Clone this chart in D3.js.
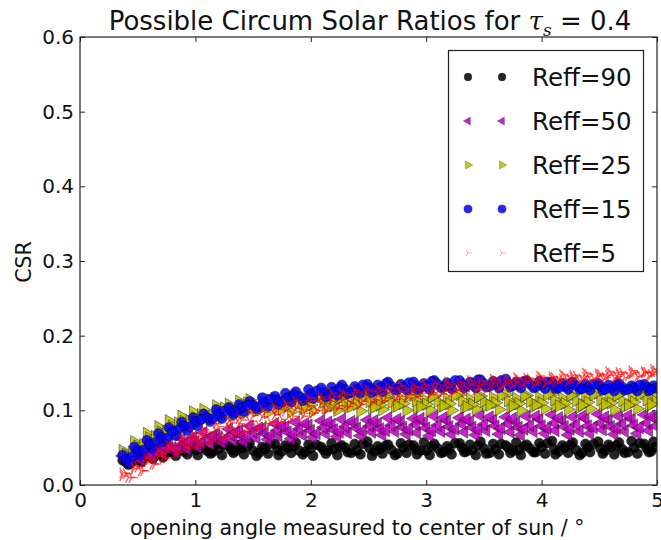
<!DOCTYPE html>
<html>
<head>
<meta charset="utf-8">
<script src="https://cdn.jsdelivr.net/npm/d3@7"></script>
<style>
  html, body { margin: 0; padding: 0; background: #fff; }
  svg { display: block; }
  text { font-family: "DejaVu Sans", sans-serif; fill: #111; }
</style>
</head>
<body>
<svg id="chart" width="661" height="540"></svg>
<script>
// Opening angles (deg) of the four sampling sweeps
const angleA = [0.37,0.47,0.58,0.68,0.77,0.88,0.98,1.07,1.18,1.29, 1.38,1.47,1.58,1.69,1.78,1.87,1.98,2.09,2.18,2.27,
                2.38,2.49,2.58,2.67,2.78,2.89,2.98,3.07,3.18,3.29, 3.38,3.47,3.58,3.69,3.78,3.87,3.98,4.09,4.18,4.27,
                4.38,4.49,4.58,4.67,4.78,4.89,4.97];
const angleB = [0.42,0.53,0.63,0.72,0.83,0.93,1.02,1.13,1.23,1.33, 1.42,1.53,1.63,1.72,1.83,1.93,2.02,2.13,2.23,2.32,
                2.43,2.53,2.62,2.73,2.83,2.92,3.03,3.13,3.22,3.33, 3.43,3.52,3.63,3.73,3.82,3.93,4.03,4.12,4.23,4.33,
                4.42,4.53,4.63,4.72,4.83,4.93];
const angleC = [0.40,0.50,0.60,0.70,0.80,0.90,1.00,1.10,1.20,1.31, 1.40,1.50,1.60,1.71,1.80,1.90,2.00,2.11,2.20,2.30,
                2.40,2.51,2.60,2.70,2.80,2.91,3.00,3.10,3.20,3.31, 3.40,3.50,3.60,3.71,3.80,3.90,4.00,4.11,4.20,4.30,
                4.40,4.51,4.60,4.70,4.80,4.91,4.99];
const angleD = [0.45,0.55,0.65,0.75,0.85,0.95,1.05,1.15,1.25,1.35, 1.45,1.55,1.65,1.75,1.85,1.95,2.05,2.15,2.25,2.35,
                2.45,2.55,2.65,2.75,2.85,2.95,3.05,3.15,3.25,3.35, 3.45,3.55,3.65,3.75,3.85,3.95,4.05,4.15,4.25,4.35,
                4.45,4.55,4.65,4.75,4.85,4.95];

// Circum solar ratio, Reff = 90
const csr90a = [0.033,0.038,0.042,0.046,0.049,0.051,0.053,0.050,0.055,0.052, 0.054,0.056,0.051,0.055,0.053,0.057,0.054,0.051,0.056,0.053,
                0.055,0.058,0.052,0.054,0.056,0.053,0.057,0.055,0.052,0.056, 0.054,0.058,0.055,0.053,0.057,0.054,0.056,0.059,0.053,0.057,
                0.055,0.058,0.054,0.057,0.059,0.055,0.058];
const csr90b = [0.027,0.031,0.035,0.037,0.039,0.041,0.040,0.042,0.040,0.043, 0.041,0.039,0.042,0.040,0.043,0.041,0.039,0.042,0.040,0.044,
                0.041,0.039,0.042,0.040,0.043,0.041,0.040,0.043,0.041,0.044, 0.040,0.042,0.041,0.043,0.040,0.044,0.042,0.041,0.043,0.040,
                0.044,0.042,0.041,0.043,0.042,0.044];
const csr90c = [0.030,0.034,0.038,0.041,0.044,0.045,0.047,0.046,0.048,0.047, 0.049,0.046,0.048,0.047,0.050,0.046,0.049,0.047,0.048,0.050,
                0.046,0.049,0.048,0.047,0.050,0.048,0.046,0.049,0.048,0.050, 0.047,0.049,0.048,0.050,0.047,0.049,0.051,0.048,0.050,0.047,
                0.050,0.049,0.051,0.048,0.050,0.049,0.051];
const csr90d = [0.031,0.036,0.039,0.043,0.046,0.049,0.051,0.044,0.053,0.046, 0.052,0.043,0.055,0.045,0.052,0.044,0.054,0.046,0.051,0.043,
                0.055,0.045,0.053,0.042,0.054,0.046,0.052,0.044,0.056,0.045, 0.053,0.043,0.055,0.046,0.052,0.044,0.056,0.045,0.054,0.043,
                0.055,0.046,0.053,0.044,0.056,0.045];
// Reff = 50
const csr50a = [0.039,0.044,0.048,0.053,0.056,0.062,0.064,0.070,0.068,0.075, 0.073,0.079,0.076,0.082,0.078,0.084,0.080,0.086,0.081,0.088,
                0.083,0.087,0.082,0.090,0.085,0.089,0.084,0.092,0.086,0.090, 0.085,0.093,0.087,0.091,0.084,0.092,0.088,0.094,0.086,0.091,
                0.089,0.095,0.087,0.092,0.088,0.094,0.090];
const csr50b = [0.030,0.033,0.037,0.041,0.044,0.048,0.051,0.055,0.057,0.060, 0.058,0.063,0.061,0.066,0.062,0.067,0.064,0.069,0.065,0.070,
                0.066,0.071,0.067,0.072,0.068,0.070,0.066,0.072,0.068,0.071, 0.067,0.073,0.068,0.071,0.067,0.072,0.069,0.073,0.067,0.072,
                0.069,0.074,0.068,0.072,0.069,0.073];
const csr50c = [0.034,0.039,0.043,0.047,0.050,0.055,0.058,0.062,0.063,0.067, 0.066,0.071,0.069,0.073,0.071,0.075,0.073,0.077,0.074,0.078,
                0.076,0.079,0.075,0.080,0.077,0.081,0.076,0.080,0.078,0.082, 0.077,0.081,0.079,0.082,0.077,0.080,0.079,0.083,0.078,0.081,
                0.079,0.083,0.078,0.082,0.080,0.083,0.079];
const csr50d = [0.036,0.042,0.045,0.050,0.051,0.058,0.056,0.066,0.061,0.071, 0.064,0.076,0.066,0.079,0.068,0.082,0.069,0.084,0.071,0.085,
                0.072,0.086,0.073,0.088,0.074,0.089,0.073,0.090,0.075,0.088, 0.074,0.091,0.076,0.089,0.075,0.092,0.076,0.090,0.075,0.092,
                0.077,0.091,0.076,0.093,0.077,0.092];
// Reff = 25
const csr25a = [0.046,0.058,0.069,0.078,0.086,0.092,0.098,0.101,0.106,0.108, 0.112,0.114,0.113,0.116,0.112,0.117,0.114,0.118,0.113,0.117,
                0.115,0.119,0.114,0.118,0.116,0.120,0.115,0.119,0.116,0.121, 0.115,0.119,0.117,0.121,0.116,0.120,0.117,0.122,0.116,0.120,
                0.118,0.123,0.117,0.121,0.118,0.122,0.119];
const csr25b = [0.036,0.047,0.057,0.065,0.072,0.078,0.083,0.087,0.091,0.094, 0.096,0.099,0.097,0.101,0.098,0.102,0.099,0.103,0.100,0.104,
                0.099,0.103,0.101,0.105,0.100,0.104,0.101,0.105,0.100,0.104, 0.102,0.106,0.101,0.104,0.100,0.105,0.102,0.106,0.101,0.104,
                0.102,0.106,0.101,0.105,0.102,0.106];
const csr25c = [0.041,0.052,0.063,0.071,0.079,0.085,0.090,0.094,0.098,0.101, 0.104,0.106,0.105,0.109,0.106,0.110,0.107,0.111,0.106,0.110,
                0.108,0.112,0.107,0.111,0.109,0.113,0.108,0.112,0.109,0.113, 0.108,0.112,0.110,0.113,0.109,0.112,0.110,0.114,0.109,0.113,
                0.111,0.114,0.110,0.113,0.111,0.114,0.112];
const csr25d = [0.044,0.054,0.065,0.072,0.083,0.086,0.094,0.092,0.103,0.099, 0.110,0.101,0.114,0.102,0.116,0.103,0.117,0.104,0.116,0.105,
                0.118,0.104,0.117,0.106,0.119,0.105,0.118,0.106,0.120,0.105, 0.118,0.107,0.120,0.106,0.119,0.107,0.121,0.106,0.120,0.107,
                0.121,0.108,0.120,0.107,0.121,0.108];
// Reff = 15
const csr15a = [0.040,0.051,0.060,0.069,0.077,0.084,0.090,0.095,0.101,0.104, 0.108,0.112,0.117,0.119,0.123,0.125,0.128,0.130,0.131,0.134,
                0.132,0.135,0.134,0.138,0.135,0.138,0.136,0.140,0.137,0.140, 0.138,0.141,0.139,0.142,0.138,0.140,0.139,0.138,0.136,0.138,
                0.135,0.136,0.134,0.136,0.133,0.135,0.133];
const csr15b = [0.030,0.040,0.049,0.058,0.066,0.073,0.079,0.085,0.089,0.094, 0.098,0.102,0.105,0.108,0.111,0.113,0.116,0.118,0.120,0.122,
                0.123,0.124,0.125,0.127,0.127,0.128,0.128,0.130,0.129,0.130, 0.130,0.131,0.130,0.131,0.130,0.130,0.129,0.129,0.128,0.128,
                0.127,0.127,0.126,0.127,0.126,0.126];
const csr15c = [0.035,0.046,0.055,0.064,0.072,0.079,0.085,0.090,0.095,0.099, 0.103,0.107,0.111,0.114,0.117,0.119,0.122,0.124,0.125,0.128,
                0.128,0.130,0.130,0.132,0.131,0.133,0.132,0.135,0.133,0.135, 0.134,0.136,0.135,0.136,0.134,0.135,0.134,0.134,0.132,0.133,
                0.131,0.132,0.130,0.131,0.130,0.131,0.130];
const csr15d = [0.038,0.047,0.057,0.063,0.074,0.078,0.088,0.089,0.099,0.098, 0.107,0.105,0.115,0.111,0.121,0.116,0.126,0.120,0.130,0.124,
                0.134,0.126,0.136,0.128,0.137,0.130,0.139,0.131,0.140,0.132, 0.141,0.132,0.140,0.133,0.139,0.131,0.138,0.130,0.136,0.129,
                0.135,0.128,0.134,0.128,0.134,0.128];
// Reff = 5
const csr5a = [0.016,0.025,0.036,0.045,0.053,0.062,0.069,0.074,0.082,0.086, 0.090,0.097,0.101,0.104,0.110,0.112,0.117,0.118,0.123,0.123,
               0.127,0.128,0.130,0.131,0.133,0.132,0.135,0.136,0.138,0.137, 0.140,0.139,0.142,0.141,0.144,0.143,0.146,0.145,0.148,0.147,
               0.150,0.149,0.152,0.151,0.153,0.152,0.155];
const csr5b = [0.010,0.019,0.028,0.036,0.043,0.049,0.054,0.058,0.062,0.067, 0.071,0.076,0.080,0.084,0.088,0.092,0.096,0.099,0.102,0.105,
               0.108,0.111,0.113,0.115,0.117,0.119,0.121,0.122,0.124,0.125, 0.127,0.128,0.130,0.131,0.133,0.134,0.136,0.137,0.138,0.139,
               0.141,0.142,0.143,0.144,0.145,0.146];
const csr5c = [0.012,0.022,0.031,0.039,0.048,0.055,0.061,0.066,0.072,0.077, 0.082,0.085,0.091,0.094,0.099,0.102,0.106,0.109,0.112,0.115,
               0.117,0.120,0.121,0.124,0.125,0.127,0.128,0.130,0.131,0.132, 0.134,0.135,0.136,0.137,0.138,0.139,0.141,0.142,0.142,0.144,
               0.145,0.146,0.147,0.148,0.149,0.150,0.151];
const csr5d = [0.015,0.024,0.034,0.043,0.051,0.059,0.065,0.071,0.078,0.083, 0.087,0.093,0.097,0.101,0.106,0.109,0.113,0.115,0.119,0.121,
               0.124,0.126,0.127,0.129,0.130,0.131,0.133,0.134,0.135,0.136, 0.138,0.138,0.140,0.140,0.142,0.142,0.144,0.144,0.146,0.146,
               0.148,0.148,0.150,0.150,0.151,0.151,0.153];
const csr5e = [0.010,0.019,0.028,0.036,0.044,0.051,0.056,0.061,0.066,0.071, 0.075,0.080,0.084,0.088,0.092,0.096,0.100,0.103,0.106,0.109,
               0.112,0.114,0.117,0.119,0.121,0.123,0.124,0.126,0.127,0.129, 0.130,0.132,0.133,0.134,0.136,0.137,0.138,0.140,0.141,0.142,
               0.143,0.144,0.145,0.146,0.147,0.148];

const seriesLabels = ["Reff=90", "Reff=50", "Reff=25", "Reff=15", "Reff=5"];
const xTicks = [0, 1, 2, 3, 4, 5];
const yTicks = [0.0, 0.1, 0.2, 0.3, 0.4, 0.5, 0.6];

// marker paths
const circle = d3.symbol(d3.symbolCircle, 78)();
const triangle = d3.symbol(d3.symbolTriangle, 68)();
const tri = (() => { const r = 6; return `M0,0L${r},0M0,0L${-r/2},${-r*0.866}M0,0L${-r/2},${r*0.866}`; })();

const series = [
  { label: seriesLabels[0], rows: [[angleA, csr90a], [angleB, csr90b], [angleC, csr90c], [angleD, csr90d]],
    path: circle, rot: 0, fill: "#000", stroke: "#000", sw: 0.5, op: 0.85, legendScale: 0.78 },
  { label: seriesLabels[1], rows: [[angleA, csr50a], [angleB, csr50b], [angleC, csr50c], [angleD, csr50d]],
    path: triangle, rot: -90, fill: "#bf00bf", stroke: "#000", sw: 0.5, op: 0.85, legendScale: 0.65 },
  { label: seriesLabels[2], rows: [[angleA, csr25a], [angleB, csr25b], [angleC, csr25c], [angleD, csr25d]],
    path: triangle, rot: 90, fill: "#bfbf00", stroke: "#000", sw: 0.5, op: 0.85, legendScale: 0.65 },
  { label: seriesLabels[3], rows: [[angleA, csr15a], [angleB, csr15b], [angleC, csr15c], [angleD, csr15d]],
    path: circle, rot: 0, fill: "#0000ff", stroke: "#000", sw: 0.5, op: 0.85, legendScale: 0.82 },
  { label: seriesLabels[4], rows: [[angleA, csr5a], [angleB, csr5b], [angleA, csr5c], [angleC, csr5d], [angleD, csr5e]],
    path: tri, rot: 0, fill: "none", stroke: "#ff0000", sw: 1.5, op: 0.6, legendScale: 0.65 }
];

const svg = d3.select("#chart");
const margin = { left: 80, right: 4, top: 37, bottom: 55 };
const W = 661, H = 540;
const x = d3.scaleLinear().domain([0, 5]).range([margin.left, W - margin.right]);
const y = d3.scaleLinear().domain([0, 0.6]).range([H - margin.bottom, margin.top]);

svg.append("clipPath").attr("id", "plotclip").append("rect")
  .attr("x", x(0)).attr("y", y(0.6)).attr("width", x(5) - x(0)).attr("height", y(0) - y(0.6));

const plot = svg.append("g").attr("clip-path", "url(#plotclip)");
series.forEach(s => {
  const pts = [];
  s.rows.forEach(([xs, ys]) => xs.forEach((v, i) => pts.push([v, ys[i]])));
  plot.append("g").selectAll("path").data(pts).join("path")
    .attr("d", s.path)
    .attr("transform", d => `translate(${x(d[0])},${y(d[1])}) rotate(${s.rot})`)
    .attr("fill", s.fill).attr("stroke", s.stroke).attr("stroke-width", s.sw)
    .attr("opacity", s.op);
});

// axes: ticks pointing inward on all four sides
const tickLen = 5;
const axB = svg.append("g").attr("transform", `translate(0,${y(0)})`)
  .call(d3.axisBottom(x).tickValues(xTicks).tickSizeInner(-tickLen).tickSizeOuter(0).tickPadding(8).tickFormat(d3.format("d")));
const axT = svg.append("g").attr("transform", `translate(0,${y(0.6)})`)
  .call(d3.axisTop(x).tickValues(xTicks).tickSizeInner(-tickLen).tickSizeOuter(0).tickFormat(""));
const axL = svg.append("g").attr("transform", `translate(${x(0)},0)`)
  .call(d3.axisLeft(y).tickValues(yTicks).tickSizeInner(-tickLen).tickSizeOuter(0).tickPadding(6).tickFormat(d3.format(".1f")));
const axR = svg.append("g").attr("transform", `translate(${x(5)},0)`)
  .call(d3.axisRight(y).tickValues(yTicks).tickSizeInner(-tickLen).tickSizeOuter(0).tickFormat(""));
[axB, axT, axL, axR].forEach(a => {
  a.select(".domain").remove();
  a.selectAll(".tick line").attr("stroke", "#222");
  a.selectAll("text").attr("font-size", 20).attr("font-family", "DejaVu Sans, sans-serif").attr("fill", "#111");
});
axB.selectAll("text").attr("dy", "0.71em");

svg.append("rect")
  .attr("x", x(0)).attr("y", y(0.6)).attr("width", x(5) - x(0)).attr("height", y(0) - y(0.6))
  .attr("fill", "none").attr("stroke", "#222").attr("stroke-width", 1.2);

// labels
svg.append("text").attr("x", 130).attr("y", 535).attr("font-size", 20.5)
  .text("opening angle measured to center of sun / °");
svg.append("text").attr("transform", "translate(31,262) rotate(-90)").attr("text-anchor", "middle")
  .attr("font-size", 20.5).text("CSR");

const title = svg.append("text").attr("x", 370).attr("y", 30).attr("text-anchor", "middle").attr("font-size", 26);
title.append("tspan").text("Possible Circum Solar Ratios for ");
title.append("tspan").attr("font-family", "DejaVu Serif, serif").attr("font-style", "italic").text("τ");
title.append("tspan").attr("font-family", "DejaVu Serif, serif").attr("font-style", "italic")
  .attr("font-size", 17).attr("dy", 6).text("s");
title.append("tspan").attr("dy", -6).text(" = 0.4");

// legend
const lg = svg.append("g");
lg.append("rect").attr("x", 448.5).attr("y", 50.5).attr("width", 195).attr("height", 221)
  .attr("fill", "#fff").attr("stroke", "#222").attr("stroke-width", 1.2);
series.forEach((s, i) => {
  const cy = 77 + i * 44;
  [468, 502].forEach(cx => {
    lg.append("path").attr("d", s.path)
      .attr("transform", `translate(${cx},${cy}) rotate(${s.rot}) scale(${s.legendScale})`)
      .attr("fill", s.fill).attr("stroke", s.stroke).attr("stroke-width", s.sw)
      .attr("opacity", i === 4 ? 0.35 : s.op);
  });
  lg.append("text").attr("x", 532).attr("y", cy).attr("dy", "0.36em").attr("font-size", 24.5).text(s.label);
});
</script>
</body>
</html>
